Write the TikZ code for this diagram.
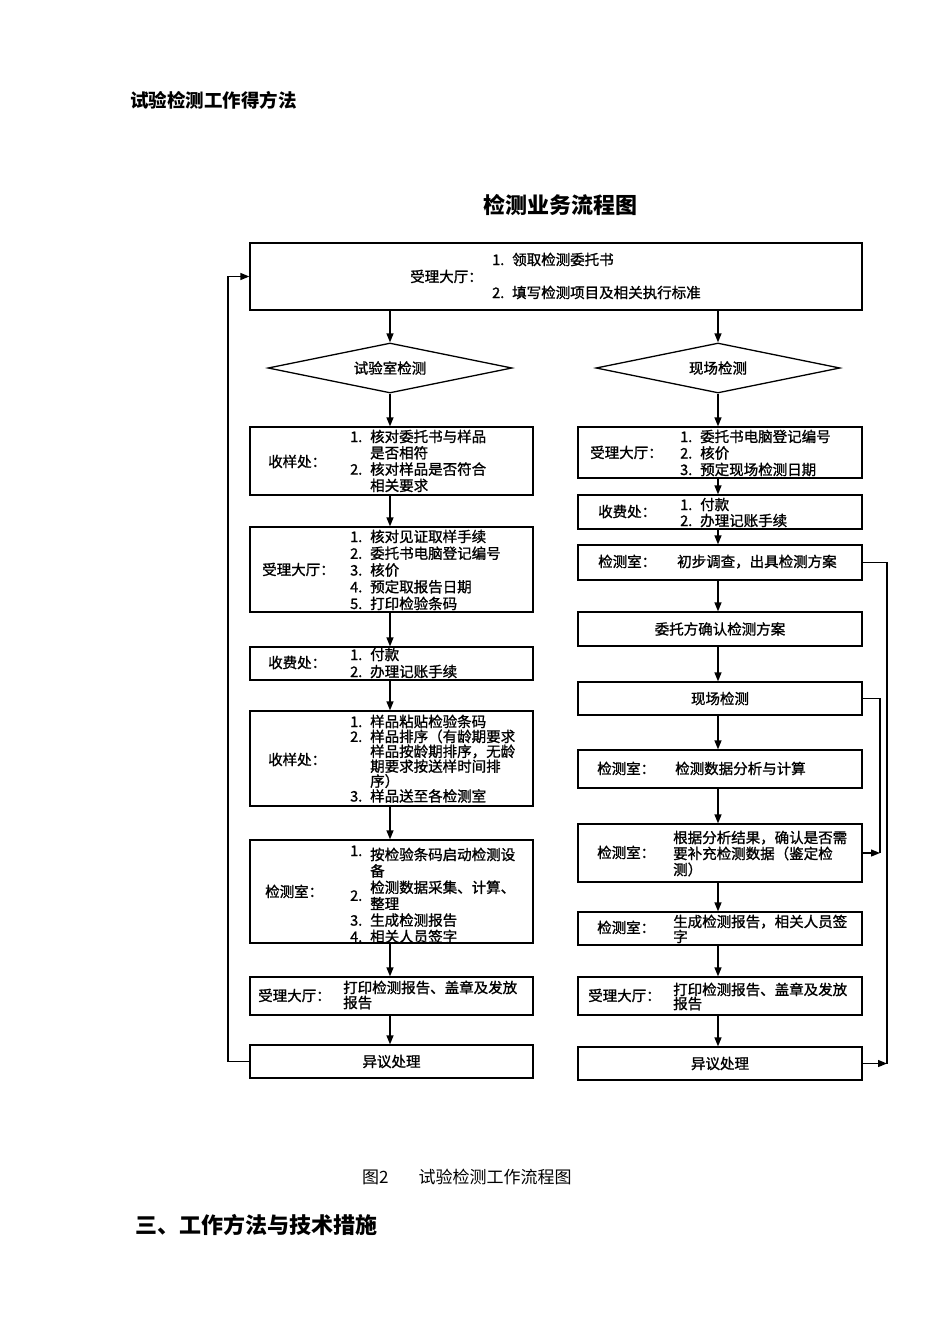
\documentclass[tikz,border=0pt]{standalone}
\usepackage{fontspec}
\usepackage{array}
\setmainfont{Noto Sans CJK SC}
\newfontfamily\bxf{Noto Sans CJK SC}[RawFeature={embolden=1.2}]
\usetikzlibrary{arrows.meta,shapes.geometric}
\newcolumntype{Q}{>{\setbox0=\hbox\bgroup}l<{\egroup\smash{\box0}}}
\newcommand\nb[1]{\makebox[20pt][l]{#1}}
\newcommand\itemlist[2]{{\fontsize{14.5}{#1}\selectfont\begin{tabular}[t]{@{}Q@{}Q@{}}#2\end{tabular}}}
\tikzset{
  box/.style={draw, line width=1.3pt, inner sep=0pt, rectangle},
  dia/.style={draw, line width=1.3pt, diamond, aspect=4.9, inner sep=0pt, minimum width=244pt, minimum height=50pt, font=\bxf\fontsize{14.5}{16}\selectfont},
  lbl/.style={anchor=base west, inner sep=0pt, font=\bxf\fontsize{14.5}{16}\selectfont},
  ctext/.style={inner sep=0pt, font=\bxf\fontsize{14.5}{16}\selectfont},
  arr/.style={line width=1.3pt, -{Triangle[length=9pt,width=7pt]}},
  ln/.style={line width=1.3pt},
}
\begin{document}
\begin{tikzpicture}[x=1pt,y=-1pt]
\fill[white] (0,0) rectangle (950,1344);
\useasboundingbox (0,0) rectangle (950,1344);

% headings
\node[anchor=west, inner sep=0pt, font=\bfseries\fontsize{18.5}{20}\selectfont] (hdr) at (130,100) {试验检测工作得方法};
\node[inner sep=0pt, font=\bfseries\fontsize{22}{24}\selectfont] (ttl) at (560,205) {检测业务流程图};
\node[anchor=west, inner sep=0pt, font=\fontsize{17}{19}\selectfont] (cap) at (362,1177) {图2\hspace{30pt}试验检测工作流程图};
\node[anchor=west, inner sep=0pt, font=\bfseries\fontsize{22}{24}\selectfont] (sec) at (135,1225) {三、工作方法与技术措施};

% top box
\node[box, minimum width=612pt, minimum height=67pt] (top) at (556,276.5) {};
\node[lbl] (topl) at (410,282) {受理大厅：};
\node[lbl] (t1) at (492,265) {\nb{1.}领取检测委托书};
\node[lbl] (t2) at (492,298) {\nb{2.}填写检测项目及相关执行标准};

% diamonds
\node[dia] (dL) at (390,368) {试验室检测};
\node[dia] (dR) at (718,368) {现场检测};

% left column boxes
\node[box, minimum width=283pt, minimum height=68pt] (L1) at (391.5,461) {};
\node[box, minimum width=283pt, minimum height=85pt] (L2) at (391.5,569.5) {};
\node[box, minimum width=283pt, minimum height=33pt] (L3) at (391.5,663.5) {};
\node[box, minimum width=283pt, minimum height=95pt] (L4) at (391.5,758.5) {};
\node[box, minimum width=283pt, minimum height=103pt] (L5) at (391.5,891.5) {};
\node[box, minimum width=283pt, minimum height=38pt] (L6) at (391.5,996) {};
\node[box, minimum width=283pt, minimum height=33pt] (L7) at (391.5,1061.5) {};

\node[lbl] (L1a) at (268,467) {收样处：};
\node[lbl] (L1b) at (350,442) {\itemlist{16.3pt}{\nb{1.}&核对委托书与样品\\ &是否相符\\ \nb{2.}&核对样品是否符合\\ &相关要求}};
\node[lbl] (L2a) at (262,575) {受理大厅：};
\node[lbl] (L2b) at (350,542) {\itemlist{16.75pt}{\nb{1.}&核对见证取样手续\\ \nb{2.}&委托书电脑登记编号\\ \nb{3.}&核价\\ \nb{4.}&预定取报告日期\\ \nb{5.}&打印检验条码}};
\node[lbl] (L3a) at (268,668) {收费处：};
\node[lbl] (L3b) at (350,660) {\itemlist{17pt}{\nb{1.}&付款\\ \nb{2.}&办理记账手续}};
\node[lbl] (L4a) at (268,765) {收样处：};
\node[lbl] (L4b) at (350,727) {\itemlist{14.9pt}{\nb{1.}&样品粘贴检验条码\\ \nb{2.}&样品排序（有龄期要求\\ &样品按龄期排序，无龄\\ &期要求按送样时间排\\ &序）\\ \nb{3.}&样品送至各检测室}};
\node[lbl] (L5a) at (265,897) {检测室：};
\node[lbl] (L5b) at (350,860) {\itemlist{16.4pt}{\raisebox{4pt}{\nb{1.}}&按检验条码启动检测设\\ &备\\ \raisebox{-8pt}{\nb{2.}}&检测数据采集、计算、\\ &整理\\ \nb{3.}&生成检测报告\\ \nb{4.}&相关人员签字}};
\node[lbl] (L6a) at (258,1001) {受理大厅：};
\node[lbl] (L6b) at (343,993) {\itemlist{15pt}{&打印检测报告、盖章及发放\\ &报告}};
\node[ctext] (L7a) at (L7) {异议处理};

% right column boxes
\node[box, minimum width=284pt, minimum height=51pt] (R1) at (720,452.5) {};
\node[box, minimum width=284pt, minimum height=34pt] (R2) at (720,512) {};
\node[box, minimum width=284pt, minimum height=35pt] (R3) at (720,562.5) {};
\node[box, minimum width=284pt, minimum height=34pt] (R4) at (720,629) {};
\node[box, minimum width=284pt, minimum height=33pt] (R5) at (720,698.5) {};
\node[box, minimum width=284pt, minimum height=38pt] (R6) at (720,769) {};
\node[box, minimum width=284pt, minimum height=58pt] (R7) at (720,853) {};
\node[box, minimum width=284pt, minimum height=33pt] (R8) at (720,928.5) {};
\node[box, minimum width=284pt, minimum height=38pt] (R9) at (720,996) {};
\node[box, minimum width=284pt, minimum height=33pt] (R10) at (720,1063.5) {};

\node[lbl] (R1a) at (590,458) {受理大厅：};
\node[lbl] (R1b) at (680,442) {\itemlist{16.5pt}{\nb{1.}&委托书电脑登记编号\\ \nb{2.}&核价\\ \nb{3.}&预定现场检测日期}};
\node[lbl] (R2a) at (598,517) {收费处：};
\node[lbl] (R2b) at (680,510) {\itemlist{16pt}{\nb{1.}&付款\\ \nb{2.}&办理记账手续}};
\node[lbl] (R3a) at (598,567) {检测室：};
\node[lbl] (R3b) at (677,567) {初步调查，出具检测方案};
\node[ctext] (R4a) at (R4) {委托方确认检测方案};
\node[ctext] (R5a) at (R5) {现场检测};
\node[lbl] (R6a) at (597,774) {检测室：};
\node[lbl] (R6b) at (675,774) {检测数据分析与计算};
\node[lbl] (R7a) at (597,858) {检测室：};
\node[lbl] (R7b) at (673,843) {\itemlist{16pt}{&根据分析结果，确认是否需\\ &要补充检测数据（鉴定检\\ &测）}};
\node[lbl] (R8a) at (597,933) {检测室：};
\node[lbl] (R8b) at (673,927) {\itemlist{15pt}{&生成检测报告，相关人员签\\ &字}};
\node[lbl] (R9a) at (588,1001) {受理大厅：};
\node[lbl] (R9b) at (673,995) {\itemlist{14pt}{&打印检测报告、盖章及发放\\ &报告}};
\node[ctext] (R10a) at (R10) {异议处理};

% vertical arrows
\coordinate (axL) at (390,0);
\coordinate (axR) at (718,0);
\draw[arr] (top.south -| dL) -- (dL.north);
\draw[arr] (top.south -| dR) -- (dR.north);
\draw[arr] (dL.south) -- (L1.north -| dL);
\draw[arr] (dR.south) -- (R1.north -| dR);
\draw[arr] (L1.south -| axL) -- (L2.north -| axL);
\draw[arr] (L2.south -| axL) -- (L3.north -| axL);
\draw[arr] (L3.south -| axL) -- (L4.north -| axL);
\draw[arr] (L4.south -| axL) -- (L5.north -| axL);
\draw[arr] (L5.south -| axL) -- (L6.north -| axL);
\draw[arr] (L6.south -| axL) -- (L7.north -| axL);
\draw[arr] (R1.south -| axR) -- (R2.north -| axR);
\draw[arr] (R2.south -| axR) -- (R3.north -| axR);
\draw[arr] (R3.south -| axR) -- (R4.north -| axR);
\draw[arr] (R4.south -| axR) -- (R5.north -| axR);
\draw[arr] (R5.south -| axR) -- (R6.north -| axR);
\draw[arr] (R6.south -| axR) -- (R7.north -| axR);
\draw[arr] (R7.south -| axR) -- (R8.north -| axR);
\draw[arr] (R8.south -| axR) -- (R9.north -| axR);
\draw[arr] (R9.south -| axR) -- (R10.north -| axR);

% side loops
\coordinate (xA) at (887,0);
\coordinate (xB) at (880,0);
\coordinate (xL) at (228,0);
\draw[ln] (R3.east) -| (R10.east -| xA);
\draw[arr] (R10.east) -- (R10.east -| xA);
\draw[ln] (R5.east) -| (R7.east -| xB);
\draw[arr] (R7.east) -- (R7.east -| xB);
\draw[arr] (L7.west) -| (top.west -| xL) -- (top.west);
\end{tikzpicture}
\end{document}
